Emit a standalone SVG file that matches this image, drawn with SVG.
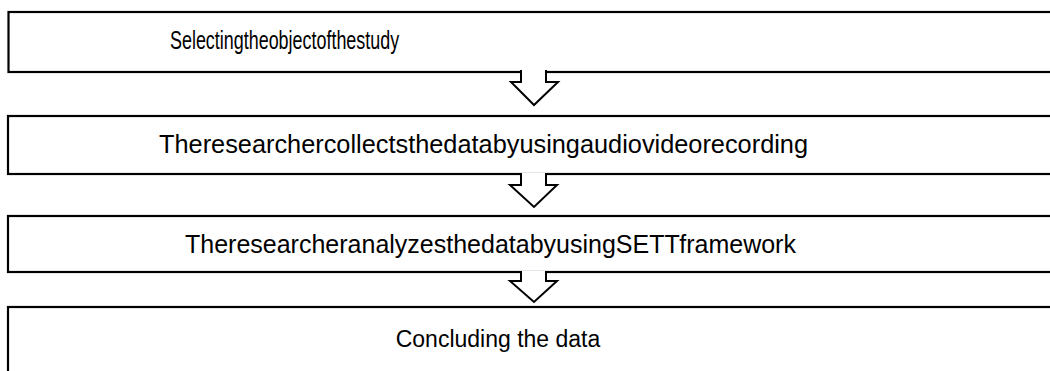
<svg xmlns="http://www.w3.org/2000/svg" width="1050" height="371" viewBox="0 0 1050 371">
<style>
.box{fill:#fff;stroke:#000;stroke-width:2.2}
.arr{fill:#fff;stroke:#000;stroke-width:2}
.t{font-family:"Liberation Sans",Arial,sans-serif;fill:#000}
.c{word-spacing:-0.278em}
</style>
<rect width="1050" height="371" fill="#fff"/>
<g id="n1"><rect class="box" x="8.5" y="12" width="1100" height="60"/>
<text class="t c" transform="translate(170,49) scale(0.717,1)" font-size="25">Selecting the object of the study</text></g>
<g id="n2"><rect class="box" x="8" y="116" width="1100" height="58"/>
<text class="t c" transform="translate(159,153) scale(0.975,1)" font-size="26">The researcher collects the data by using audio video recording</text></g>
<g id="n3"><rect class="box" x="8" y="216" width="1100" height="56"/>
<text class="t c" transform="translate(185,253) scale(0.962,1)" font-size="26">The researcher analyzes the data by using SETT framework</text></g>
<g id="n4"><rect class="box" x="8" y="307" width="1100" height="100"/>
<text class="t" x="498" y="347" font-size="23" text-anchor="middle">Concluding the data</text></g>
<g id="connectors">
<path class="arr" d="M521,70 V82 H511 L534,105 L558,82 H546 V70"/>
<path class="arr" d="M521,173 V185 H510 L534,207 L557,185 H546 V173"/>
<path class="arr" d="M521,271 V281 H510 L534,302 L557,281 H546 V271"/>
</g>
</svg>
